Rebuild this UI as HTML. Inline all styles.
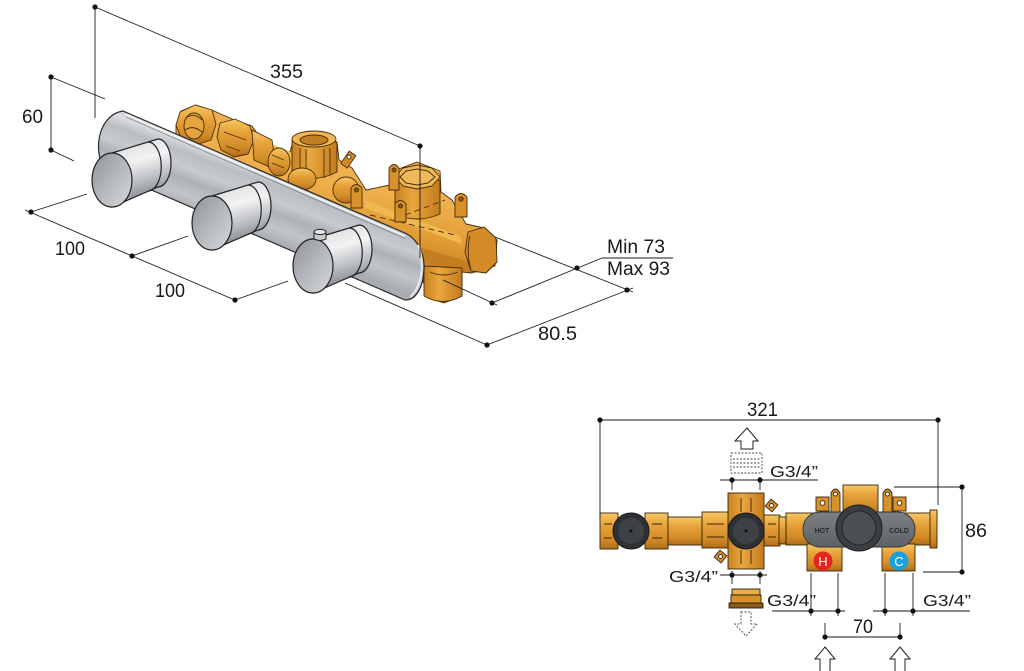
<!DOCTYPE html>
<html><head><meta charset="utf-8"><style>
html,body{margin:0;padding:0;background:#fff;}
svg{display:block;}
text{font-family:"Liberation Sans",Arial,sans-serif;fill:#1a1a1a;}
</style></head><body>
<svg width="1024" height="671" viewBox="0 0 1024 671" xmlns="http://www.w3.org/2000/svg">
<defs>
<linearGradient id="brassV" x1="0" y1="0" x2="0" y2="1">
 <stop offset="0" stop-color="#f6c764"/>
 <stop offset="0.35" stop-color="#e7a23a"/>
 <stop offset="0.75" stop-color="#d08a28"/>
 <stop offset="1" stop-color="#b06c18"/>
</linearGradient>
<linearGradient id="brassH" x1="0" y1="0" x2="1" y2="0">
 <stop offset="0" stop-color="#c8821f"/>
 <stop offset="0.4" stop-color="#e9a63e"/>
 <stop offset="1" stop-color="#c27b1e"/>
</linearGradient>
<linearGradient id="brassBody" gradientUnits="userSpaceOnUse" x1="420" y1="200" x2="405" y2="275">
 <stop offset="0" stop-color="#eeb04c"/>
 <stop offset="0.45" stop-color="#e29c34"/>
 <stop offset="1" stop-color="#bf7a1f"/>
</linearGradient>
<linearGradient id="plate" gradientUnits="userSpaceOnUse" x1="270" y1="165" x2="245" y2="232">
 <stop offset="0" stop-color="#c9ccd0"/>
 <stop offset="0.1" stop-color="#dadcdf"/>
 <stop offset="0.25" stop-color="#b9bdc1"/>
 <stop offset="0.45" stop-color="#c8cbce"/>
 <stop offset="0.6" stop-color="#aeb2b6"/>
 <stop offset="0.8" stop-color="#c2c5c8"/>
 <stop offset="1" stop-color="#a9adb1"/>
</linearGradient>
<linearGradient id="knobBody" x1="0" y1="0" x2="0.25" y2="1">
 <stop offset="0" stop-color="#8a8e93"/>
 <stop offset="0.15" stop-color="#dfe1e3"/>
 <stop offset="0.4" stop-color="#f2f3f4"/>
 <stop offset="0.7" stop-color="#b9bcc0"/>
 <stop offset="1" stop-color="#7a7e83"/>
</linearGradient>
<linearGradient id="knobFace" x1="0" y1="0" x2="1" y2="1">
 <stop offset="0" stop-color="#8e9297"/>
 <stop offset="0.5" stop-color="#b4b7bb"/>
 <stop offset="1" stop-color="#d8dadc"/>
</linearGradient>
<linearGradient id="greyPlate" x1="0" y1="0" x2="0" y2="1">
 <stop offset="0" stop-color="#7d8085"/>
 <stop offset="1" stop-color="#5e6166"/>
</linearGradient>
</defs>

<!-- ================= 3D VIEW ================= -->
<g stroke="#4a2e0a" stroke-width="0.9" stroke-linejoin="round">
 <path fill="url(#brassBody)" d="M176,126 L181,111 L196,105 L214,111 L232,119 L252,126 L262,140 L268,146 L290,152 L293,141 L313,132 L337,142 L339,160 L352,168 L366,190 L390,185 L396,170 L417,162 L440,171 L441,192 L452,200 L466,224 L484,228 L497,240 L495,266 L472,273 L462,272 L462,296 L444,303 L428,298 L420,270 L405,236 L176,136 Z"/>
 <path fill="#f0b850" stroke="none" d="M250,135 L300,156 L300,163 L250,142 Z"/>
 <path fill="#f0b850" stroke="none" d="M365,200 L460,236 L462,244 L365,208 Z"/>
 <path fill="#c47e22" stroke="none" d="M380,236 L470,262 L470,272 L440,270 Z"/>
 <!-- nut 1 -->
 <path fill="url(#brassV)" d="M180,112 L195,105 L212,110 L216,124 L211,140 L196,145 L181,138 L176,125 Z"/>
 <ellipse cx="194" cy="126" rx="10" ry="13" fill="#e6a43e"/>
 <path fill="none" d="M186,118 Q194,112 202,120 M185,130 Q194,124 203,133"/>
 <!-- nut 2 -->
 <path fill="url(#brassV)" d="M220,123 L235,119 L250,126 L254,140 L248,154 L234,157 L221,150 L217,137 Z"/>
 <path fill="none" d="M224,132 L246,140 M226,146 L240,151"/>
 <!-- pipe segment -->
 <path fill="url(#brassV)" d="M252,130 L272,140 L276,170 L254,160 Z"/>
 <ellipse cx="279" cy="162" rx="11" ry="14" fill="url(#brassV)"/>
 <path fill="none" d="M272,155 L284,160 M272,163 L284,168"/>
 <!-- vertical hex fitting -->
 <path fill="url(#brassH)" d="M292,140 L292,173 Q314,184 337,172 L337,142 Z"/>
 <path fill="none" d="M300,148 L300,175 M306,149 L306,178 M324,149 L324,178 M330,148 L330,175"/>
 <ellipse cx="314" cy="139" rx="22" ry="8" fill="#eeb655"/>
 <ellipse cx="314" cy="140" rx="14" ry="5" fill="#c27f22"/>
 <ellipse cx="302" cy="179" rx="14" ry="11" fill="url(#brassV)"/>
 <ellipse cx="346" cy="190" rx="13" ry="13" fill="url(#brassV)"/>
 <!-- lever -->
 <rect x="344" y="152" width="8" height="15" fill="#d08a28" transform="rotate(35 348 160)"/>
 <circle cx="349" cy="157" r="2" fill="#fff"/>
 <!-- lug -->
 <path fill="#d8922c" d="M351,208 L351,188 Q356,181 362,188 L362,208 Z"/>
 <circle cx="356.5" cy="190" r="2" fill="#8a5a18"/>
 <!-- big vertical cylinder -->
 <path fill="url(#brassH)" d="M395,180 L395,214 Q417,224 440,214 L440,180 Z"/>
 <polygon fill="#efb95a" points="395,177 403,168 417,165 432,168 440,177 432,186 417,189 403,186"/>
 <polygon fill="none" points="400,177 406,171 417,169 428,171 435,177 428,183 417,185 406,183"/>
 <!-- lugs -->
 <path fill="#d8922c" d="M389,190 L389,168 Q394,161 399,168 L399,190 Z"/>
 <circle cx="394" cy="170" r="2" fill="#8a5a18"/>
 <path fill="#d8922c" d="M395,222 L395,204 Q400,197 406,204 L406,222 Z"/>
 <circle cx="400.5" cy="206" r="2" fill="#8a5a18"/>
 <path fill="#d8922c" d="M455,217 L455,197 Q461,190 467,197 L467,217 Z"/>
 <circle cx="461" cy="199" r="2.2" fill="#8a5a18"/>
 <!-- dashed axis lines -->
 <path fill="none" stroke-dasharray="6,4" d="M370,215 L455,235 M405,215 L445,200"/>
 <!-- right hex nut -->
 <polygon fill="#d38b27" points="468,232 484,227 496,238 497,262 486,273 471,271 465,252"/>
 <path fill="none" d="M470,236 Q466,252 471,270"/>
 <!-- lower outlet -->
 <path fill="url(#brassH)" d="M424,266 L424,296 Q443,307 462,296 L462,268 Z"/>
 <path fill="none" d="M430,272 Q443,278 458,272"/>
</g>

<!-- plate -->
<path d="M123,111 L405,233 C418,239 425,255 424,270 C423,288 416,300 405,300 L110,172 C93,165 93,116 123,111 Z" fill="url(#plate)" stroke="#2a2a2a" stroke-width="1.2"/>
<line x1="125" y1="114" x2="405" y2="236" stroke="#eef0f1" stroke-width="2"/>
<line x1="126" y1="117" x2="405" y2="238.5" stroke="#6a6e73" stroke-width="0.6"/>
<path d="M418,245 C424,258 424,285 410,297" fill="none" stroke="#e6e8ea" stroke-width="2"/>

<!-- knobs -->
<g stroke="#222" stroke-width="1.2">
 <path d="M112,153 L158,139 A13 24 0 0 1 158,187 L112,207 Z" fill="url(#knobBody)"/>
 <path d="M148,142 A13 24 0 0 1 148,191" fill="none"/>
 <ellipse cx="112" cy="180" rx="20" ry="27" fill="url(#knobFace)"/>
 <path d="M212,196 L258,182 A13 24 0 0 1 258,230 L212,250 Z" fill="url(#knobBody)"/>
 <path d="M248,185 A13 24 0 0 1 248,234" fill="none"/>
 <ellipse cx="212" cy="223" rx="20" ry="27" fill="url(#knobFace)"/>
 <path d="M313,239 L359,225 A13 24 0 0 1 359,273 L313,293 Z" fill="url(#knobBody)"/>
 <path d="M349,228 A13 24 0 0 1 349,277" fill="none"/>
 <ellipse cx="313" cy="266" rx="20" ry="27" fill="url(#knobFace)"/>
 <path d="M314,232 L314,239 Q320,242 326,239 L326,232 Z" fill="#c9cccf" stroke-width="1"/>
 <ellipse cx="320" cy="232" rx="6" ry="2.6" fill="#e4e6e8" stroke-width="1"/>
</g>

<!-- 3D dimension lines -->
<g stroke="#1a1a1a" stroke-width="0.9" fill="none">
 <line x1="95" y1="7" x2="95" y2="118"/>
 <line x1="95" y1="7" x2="420" y2="146"/>
 <line x1="420" y1="146" x2="420" y2="258"/>
 <line x1="51" y1="77" x2="51" y2="150"/>
 <line x1="51" y1="77" x2="105" y2="99"/>
 <line x1="51" y1="150" x2="74" y2="161"/>
 <line x1="25" y1="210" x2="237" y2="301"/>
 <line x1="31" y1="212" x2="87" y2="194"/>
 <line x1="132" y1="256" x2="188" y2="236"/>
 <line x1="235" y1="300" x2="288" y2="281"/>
 <line x1="345" y1="283" x2="487" y2="345"/>
 <line x1="487" y1="345" x2="633" y2="288"/>
 <line x1="495" y1="237" x2="633" y2="292"/>
 <line x1="443" y1="280" x2="497" y2="305"/>
 <line x1="492" y1="303" x2="602" y2="258"/>
 <line x1="602" y1="258" x2="673" y2="258"/>
</g>
<g fill="#111">
 <circle cx="95" cy="7" r="2.6"/><circle cx="420" cy="146" r="2.6"/>
 <circle cx="51" cy="77" r="2.6"/><circle cx="51" cy="150" r="2.6"/>
 <circle cx="31" cy="212" r="2.6"/><circle cx="132" cy="256" r="2.6"/><circle cx="235" cy="300" r="2.6"/>
 <circle cx="627" cy="290" r="2.6"/><circle cx="577" cy="268" r="2.6"/>
 <circle cx="492" cy="303" r="2.6"/><circle cx="487" cy="345" r="2.6"/>
</g>
<g font-size="19">
 <text x="270" y="78" textLength="33" lengthAdjust="spacingAndGlyphs">355</text>
 <text x="22" y="123" textLength="21" lengthAdjust="spacingAndGlyphs">60</text>
 <text x="55" y="255" textLength="30" lengthAdjust="spacingAndGlyphs">100</text>
 <text x="155" y="297" textLength="30" lengthAdjust="spacingAndGlyphs">100</text>
 <text x="607" y="253" textLength="58" lengthAdjust="spacingAndGlyphs">Min 73</text>
 <text x="607" y="275" textLength="63" lengthAdjust="spacingAndGlyphs">Max 93</text>
 <text x="538" y="340" textLength="39" lengthAdjust="spacingAndGlyphs">80.5</text>
</g>

<!-- ================= FRONT VIEW ================= -->
<g stroke="#3a2508" stroke-width="0.9">
 <rect x="600" y="513" width="18" height="36" fill="url(#brassV)"/>
 <rect x="645" y="513" width="23" height="36" fill="url(#brassV)"/>
 <rect x="668" y="517" width="34" height="28" fill="url(#brassV)"/>
 <rect x="702" y="512" width="28" height="36" fill="url(#brassV)"/>
 <rect x="764" y="515" width="16" height="31" fill="url(#brassV)"/>
 <rect x="779" y="517" width="7" height="27" fill="url(#brassV)"/>
 <rect x="728" y="493" width="36" height="76" fill="url(#brassH)"/>
 <path fill="none" d="M604,524 L612,524 M604,538 L612,538 M652,524 L662,524 M652,538 L662,538 M707,524 L724,524 M707,537 L724,537 M741,498 L741,512 M751,498 L751,512 M741,550 L741,564 M751,550 L751,564 M768,524 L776,524 M768,537 L776,537"/>
 <rect x="767" y="501" width="9" height="9" fill="#d8922c" transform="rotate(40 771.5 505.5)"/>
 <circle cx="771.5" cy="505.5" r="2" fill="#fff"/>
 <rect x="716" y="552" width="9" height="9" fill="#d8922c" transform="rotate(40 720.5 556.5)"/>
 <circle cx="720.5" cy="556.5" r="2" fill="#fff"/>
 <rect x="786" y="513" width="146" height="32" fill="url(#brassV)"/>
 <rect x="930" y="510" width="7" height="38" fill="url(#brassV)"/>
 <rect x="843" y="485" width="35" height="28" fill="url(#brassV)"/>
 <path fill="#d8922c" d="M831,513 L831,493 Q835.5,485 840,493 L840,513 Z"/>
 <circle cx="835.5" cy="494" r="2" fill="#fff"/>
 <path fill="#d8922c" d="M883,513 L883,493 Q887.5,485 892,493 L892,513 Z"/>
 <circle cx="887.5" cy="494" r="2" fill="#fff"/>
 <rect x="816" y="497" width="13" height="14" fill="#d8922c"/>
 <circle cx="822.5" cy="503" r="2.3" fill="#fff"/>
 <rect x="893" y="497" width="13" height="14" fill="#d8922c"/>
 <circle cx="899.5" cy="503" r="2.3" fill="#fff"/>
 <rect x="807" y="544" width="35" height="27" fill="url(#brassV)"/>
 <rect x="882" y="544" width="33" height="27" fill="url(#brassV)"/>
</g>
<rect x="803" y="512" width="112" height="35" rx="17" fill="url(#greyPlate)" stroke="#333" stroke-width="0.9"/>
<circle cx="859" cy="528" r="23" fill="#3b3e42" stroke="#1f1f1f" stroke-width="1"/>
<circle cx="859" cy="528" r="17" fill="#4c4f54" stroke="#252525" stroke-width="1"/>
<text x="822" y="533" font-size="7" font-weight="bold" text-anchor="middle" style="fill:#2a2a2a">HOT</text>
<text x="899" y="533" font-size="7" font-weight="bold" text-anchor="middle" style="fill:#2a2a2a">COLD</text>
<circle cx="823" cy="561" r="9.5" fill="#e52420"/>
<text x="823" y="566" font-size="13" text-anchor="middle" style="fill:#fff">H</text>
<circle cx="899" cy="561" r="9.5" fill="#1aa0dc"/>
<text x="899" y="566" font-size="13" text-anchor="middle" style="fill:#fff">C</text>
<circle cx="631" cy="531" r="18" fill="#2e3034" stroke="#1a1a1a"/>
<circle cx="631" cy="531" r="13" fill="#3e4146"/>
<circle cx="631" cy="531" r="1.5" fill="#111"/>
<circle cx="746" cy="531" r="18" fill="#2e3034" stroke="#1a1a1a"/>
<circle cx="746" cy="531" r="13" fill="#3e4146"/>
<circle cx="746" cy="531" r="1.5" fill="#111"/>

<path d="M747,428 L758,441 L753,441 L753,449 L741,449 L741,441 L735,441 Z" fill="#fff" stroke="#222" stroke-width="1"/>
<g stroke="#444" stroke-width="0.9" fill="none" stroke-dasharray="2,1.5">
 <rect x="731" y="453" width="31" height="20"/>
 <path d="M733,459 L760,459 M733,463 L760,463 M733,467 L760,467"/>
</g>
<g stroke="#2a1a05" stroke-width="0.9">
 <rect x="732" y="589" width="28" height="6" fill="#e9ad4a"/>
 <rect x="731" y="595" width="30" height="8" fill="#d8922c"/>
 <rect x="729" y="603" width="34" height="5" fill="#8a5a18"/>
</g>
<path d="M741,612 L751,612 L751,624 L757,624 L746,636 L735,624 L741,624 Z" fill="#fff" stroke="#555" stroke-width="1" stroke-dasharray="2,1.5"/>

<g stroke="#1a1a1a" stroke-width="0.9" fill="none">
 <line x1="600" y1="420" x2="938" y2="420"/>
 <line x1="600" y1="420" x2="600" y2="518"/>
 <line x1="938" y1="420" x2="938" y2="505"/>
 <line x1="962" y1="487" x2="962" y2="572"/>
 <line x1="894" y1="487" x2="962" y2="487"/>
 <line x1="923" y1="572" x2="962" y2="572"/>
 <line x1="720" y1="480" x2="818" y2="480"/>
 <line x1="732" y1="477" x2="732" y2="490"/>
 <line x1="760" y1="477" x2="760" y2="490"/>
 <line x1="720" y1="575" x2="767" y2="575"/>
 <line x1="732" y1="571" x2="732" y2="584"/>
 <line x1="760" y1="571" x2="760" y2="584"/>
 <line x1="772" y1="611" x2="845" y2="611"/>
 <line x1="811" y1="573" x2="811" y2="616"/>
 <line x1="838" y1="573" x2="838" y2="616"/>
 <line x1="873" y1="611" x2="970" y2="611"/>
 <line x1="885" y1="573" x2="885" y2="616"/>
 <line x1="913" y1="573" x2="913" y2="616"/>
 <line x1="825" y1="637" x2="900" y2="637"/>
 <line x1="825" y1="623" x2="825" y2="637"/>
 <line x1="900" y1="623" x2="900" y2="637"/>
</g>
<g fill="#111">
 <circle cx="600" cy="420" r="2.6"/><circle cx="938" cy="420" r="2.6"/>
 <circle cx="962" cy="487" r="2.6"/><circle cx="962" cy="572" r="2.6"/>
 <circle cx="732" cy="480" r="2.6"/><circle cx="760" cy="480" r="2.6"/>
 <circle cx="732" cy="575" r="2.6"/><circle cx="760" cy="575" r="2.6"/>
 <circle cx="811" cy="611" r="2.6"/><circle cx="838" cy="611" r="2.6"/>
 <circle cx="885" cy="611" r="2.6"/><circle cx="913" cy="611" r="2.6"/>
 <circle cx="825" cy="637" r="2.6"/><circle cx="900" cy="637" r="2.6"/>
</g>
<path d="M825,647 L835,659 L830,659 L830,672 L820,672 L820,659 L815,659 Z" fill="#fff" stroke="#222" stroke-width="1"/>
<path d="M900,647 L910,659 L905,659 L905,672 L895,672 L895,659 L890,659 Z" fill="#fff" stroke="#222" stroke-width="1"/>

<g font-size="19">
 <text x="747" y="416" textLength="31" lengthAdjust="spacingAndGlyphs">321</text>
 <text x="965" y="537" textLength="22" lengthAdjust="spacingAndGlyphs">86</text>
 <text x="853" y="633" textLength="20" lengthAdjust="spacingAndGlyphs">70</text>
</g>
<g font-size="16">
 <text x="770" y="477" textLength="48" lengthAdjust="spacingAndGlyphs">G3/4”</text>
 <text x="669" y="582" textLength="49" lengthAdjust="spacingAndGlyphs">G3/4”</text>
 <text x="767" y="606" textLength="49" lengthAdjust="spacingAndGlyphs">G3/4”</text>
 <text x="923" y="606" textLength="48" lengthAdjust="spacingAndGlyphs">G3/4”</text>
</g>
</svg>
</body></html>
